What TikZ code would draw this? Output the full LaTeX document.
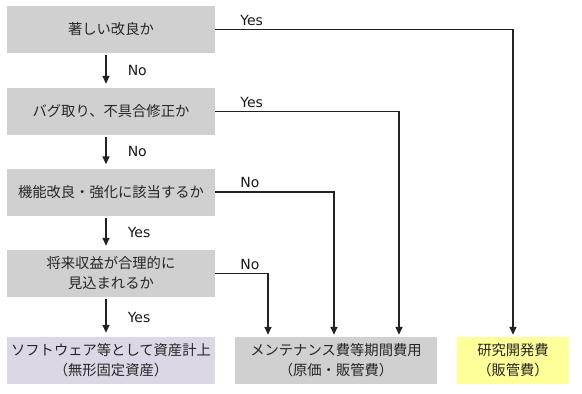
\documentclass[tikz,border=0pt]{standalone}
\usepackage{fontspec}
\usepackage{xcolor}
\usepackage{tikz}
\usetikzlibrary{arrows.meta,positioning}
\setmainfont{Noto Sans CJK JP}
\newfontfamily\latinfont{DejaVu Sans}
\definecolor{BoxGray}{HTML}{D0D0D0}
\definecolor{AssetLilac}{HTML}{DCD7E5}
\definecolor{RDYellow}{HTML}{FFFF99}
\definecolor{LineDark}{HTML}{222222}

\begin{document}
\begin{tikzpicture}[x=1pt, y=-1pt,
    block/.style={fill=BoxGray, minimum width=208pt, minimum height=47pt, inner sep=0pt, align=center,
      font=\fontsize{14.3}{20}\selectfont, text=black!85},
    arrow/.style={-{Stealth[length=8pt,width=7pt,inset=0pt]}, line width=1.5pt, draw=LineDark},
    lbl/.style={font=\latinfont\fontsize{14}{16}\selectfont, inner sep=0pt, text=black!90}
]
\useasboundingbox (0,0) rectangle (582,394);
\node[block] (q1) at (111,29.5) {著しい改良か};
\node[block] (q2) at (111,111.5) {バグ取り、不具合修正か};
\node[block] (q3) at (111,192) {機能改良・強化に該当するか};
\node[block] (q4) at (111,273.5) {将来収益が合理的に\\見込まれるか};
\node[block, fill=AssetLilac] (asset) at (111,360.5) {ソフトウェア等として資産計上\\（無形固定資産）};
\node[block, minimum width=202pt] (maint) at (336,360.5) {メンテナンス費等期間費用\\（原価・販管費）};
\node[block, fill=RDYellow, minimum width=112pt] (rnd) at (513,360.5) {研究開発費\\（販管費）};
% main column
\draw[arrow, shorten <=2pt, shorten >=4pt] ([xshift=-5pt]q1.south) -- node[lbl, right=21pt] {No} ([xshift=-5pt]q2.north);
\draw[arrow, shorten <=2pt, shorten >=4pt] ([xshift=-5pt]q2.south) -- node[lbl, right=21pt] {No} ([xshift=-5pt]q3.north);
\draw[arrow, shorten <=2pt, shorten >=4pt] ([xshift=-5pt]q3.south) -- node[lbl, right=21pt] {Yes} ([xshift=-5pt]q4.north);
\draw[arrow, shorten <=2pt, shorten >=4pt] ([xshift=-5pt]q4.south) -- node[lbl, right=21pt] {Yes} ([xshift=-5pt]asset.north);
% branches to the right
\draw[arrow, shorten >=2pt] (q1.east) -| (rnd.north);
\draw[arrow, shorten >=2pt] (q2.east) -| ([xshift=63pt]maint.north);
\draw[arrow, shorten >=2pt] (q3.east) -| ([xshift=-2pt]maint.north);
\draw[arrow, shorten >=2pt] (q4.east) -| ([xshift=-68pt]maint.north);
\node[lbl, anchor=south west] at ([xshift=25pt,yshift=4pt]q1.east) {Yes};
\node[lbl, anchor=south west] at ([xshift=25pt,yshift=4pt]q2.east) {Yes};
\node[lbl, anchor=south west] at ([xshift=25pt,yshift=4pt]q3.east) {No};
\node[lbl, anchor=south west] at ([xshift=25pt,yshift=4pt]q4.east) {No};
\end{tikzpicture}
\end{document}
